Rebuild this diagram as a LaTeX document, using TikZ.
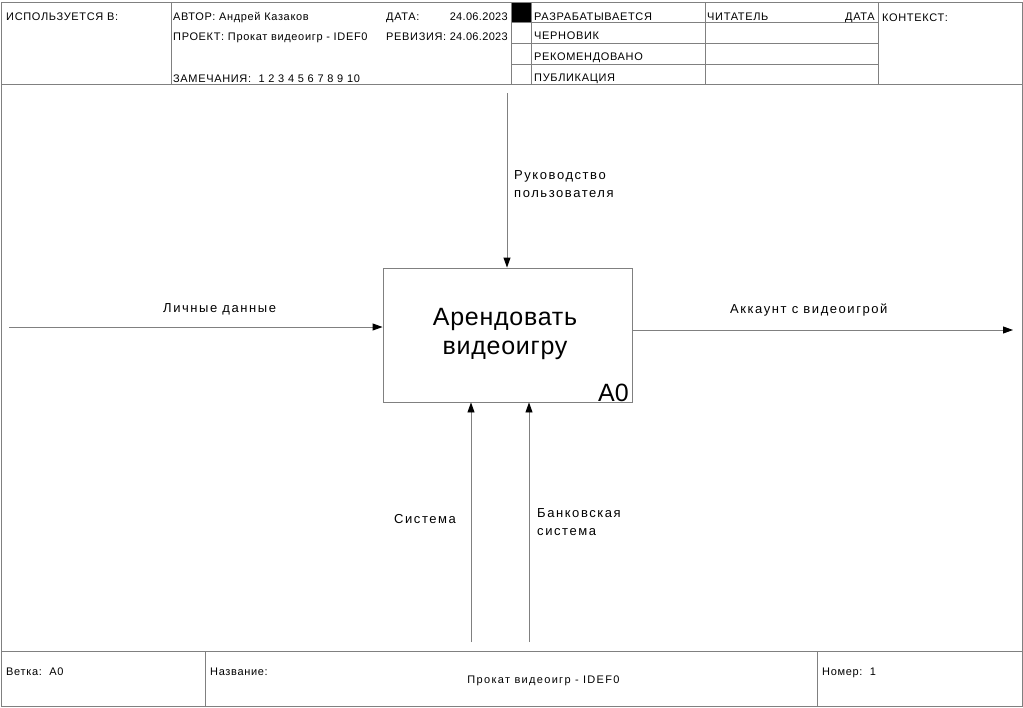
\documentclass[tikz,border=0pt]{standalone}
\usepackage{fontspec}
\setmainfont{Liberation Sans}
\newfontfamily\hdrfont[LetterSpace=6]{Liberation Sans}
\newfontfamily\datefont[LetterSpace=3]{Liberation Sans}
\newfontfamily\lblfont[LetterSpace=12]{Liberation Sans}
\newfontfamily\boxfont[LetterSpace=3]{Liberation Sans}
\usetikzlibrary{arrows.meta}
\definecolor{frame}{HTML}{808080}
\tikzset{
  x=1pt, y=-1pt,
  rule/.style={draw=frame, line width=0.9pt},
  hdr/.style={anchor=base west, inner sep=0pt, font=\hdrfont\fontsize{11}{13}\selectfont},
  hdrr/.style={anchor=base east, inner sep=0pt, font=\hdrfont\fontsize{11}{13}\selectfont},
  datetxt/.style={anchor=base east, inner sep=0pt, font=\datefont\fontsize{11}{13}\selectfont},
  lbl/.style={anchor=base west, inner sep=0pt, font=\lblfont\fontsize{13}{18}\selectfont, align=left},
  flow/.style={draw=frame, line width=0.9pt, -{Triangle[length=10pt,width=7pt,color=black]}},
  funcbox/.style={draw=frame, line width=0.9pt, minimum width=249pt, minimum height=134pt, inner sep=0pt}
}
\begin{document}
\begin{tikzpicture}
\useasboundingbox (0,0) rectangle (1023,707);
\fill[white] (0,0) rectangle (1023,707);

% outer frame, header and footer rules
\draw[rule] (1,2) rectangle (1022,706);
\draw[rule] (1,84) -- (1022,84);
\draw[rule] (1,651) -- (1022,651);
\draw[rule] (171,2) -- (171,84);
\draw[rule] (511,2) -- (511,84);
\draw[rule] (531,2) -- (531,84);
\draw[rule] (705,2) -- (705,84);
\draw[rule] (878,2) -- (878,84);
\draw[rule] (511,22) -- (878,22);
\draw[rule] (511,43) -- (878,43);
\draw[rule] (511,64) -- (878,64);
\fill[black] (511.5,2.5) rectangle (531,22);
\draw[rule] (205,651) -- (205,706);
\draw[rule] (817,651) -- (817,706);

% header texts
\node[hdr] (used) at (6,20.5) {ИСПОЛЬЗУЕТСЯ В:};
\node[hdr] (author) at (173,20) {АВТОР: Андрей Казаков};
\node[hdr] (datelbl) at (386,20) {ДАТА:};
\node[datetxt] (date) at (508,20) {24.06.2023};
\node[hdr] (project) at (173,40) {ПРОЕКТ: Прокат видеоигр - IDEF0};
\node[hdr] (revlbl) at (386,40) {РЕВИЗИЯ:};
\node[datetxt] (rev) at (508,40) {24.06.2023};
\node[hdr] (notes) at (173,82) {ЗАМЕЧАНИЯ:\ \ 1 2 3 4 5 6 7 8 9 10};
\node[hdr] (st1) at (534,20) {РАЗРАБАТЫВАЕТСЯ};
\node[hdr] (st2) at (534,39.5) {ЧЕРНОВИК};
\node[hdr] (st3) at (534,60.5) {РЕКОМЕНДОВАНО};
\node[hdr] (st4) at (534,81) {ПУБЛИКАЦИЯ};
\node[hdr] (reader) at (707,20) {ЧИТАТЕЛЬ};
\node[hdrr] (rdate) at (875,20) {ДАТА};
\node[hdr] (context) at (882,21) {КОНТЕКСТ:};

% footer texts
\node[hdr] (branch) at (6,675) {Ветка:\ \ A0};
\node[hdr] (titlelbl) at (210,675) {Название:};
\node[anchor=base, inner sep=0pt, font=\lblfont\fontsize{11}{13}\selectfont] (title) at (543.5,683) {Прокат видеоигр - IDEF0};
\node[hdr] (number) at (822,675) {Номер:\ \ 1};

% function box
\node[funcbox] (a0) at (507.5,335) {};
\node[anchor=base, inner sep=0pt, font=\boxfont\fontsize{25}{29}\selectfont, align=center] (name) at (505,354) {Арендовать\\видеоигру};
\node[anchor=base east, inner sep=0pt, font=\fontsize{25}{28}\selectfont] (num) at (629,401) {A0};

% arrow ends
\coordinate (inS) at (9,327);
\coordinate (outE) at (1013,330);
\coordinate (ctlS) at (507,93);
\coordinate (m1S) at (471,642);
\coordinate (m2S) at (529,642);

\draw[flow] (inS) -- (inS -| a0.west);
\draw[flow] (a0.east |- outE) -- (outE);
\draw[flow] (ctlS) -- (ctlS |- a0.north);
\draw[flow] (m1S) -- (m1S |- a0.south);
\draw[flow] (m2S) -- (m2S |- a0.south);

% arrow labels
\node[lbl] (linput) at (163,312) {Личные данные};
\node[lbl] (loutput) at (730,313) {Аккаунт с видеоигрой};
\node[lbl] (lctl) at (514,197) {Руководство\\пользователя};
\node[lbl] (lm1) at (394,523) {Система};
\node[lbl] (lm2) at (537,535) {Банковская\\система};
\end{tikzpicture}
\end{document}
